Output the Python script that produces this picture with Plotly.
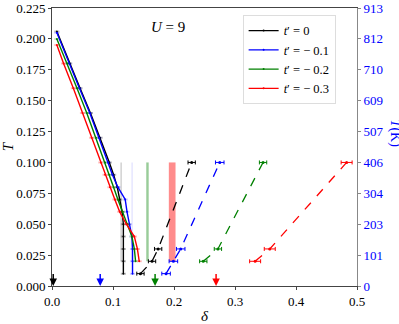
import plotly.graph_objects as go

# ---- data ----
labels = ["<i>t</i>′ = 0", "<i>t</i>′ = − 0.1", "<i>t</i>′ = − 0.2", "<i>t</i>′ = − 0.3"]
colors = ["black", "blue", "green", "red"]
err_colors = ["rgba(0,0,0,0.25)", "rgba(0,0,255,0.2)", "rgba(0,128,0,0.2)", "rgba(255,0,0,0.25)"]

# solid branch (delta, T)
T_s0 = [0.206, 0.18, 0.16, 0.14, 0.12, 0.10, 0.09, 0.08, 0.07, 0.06, 0.05, 0.04, 0.03, 0.02, 0.01]
d_s0 = [0.008, 0.029, 0.046, 0.063, 0.079, 0.094, 0.101, 0.107, 0.111, 0.115, 0.117, 0.117, 0.117, 0.117, 0.117]
T_s1 = [0.205, 0.18, 0.16, 0.14, 0.12, 0.10, 0.09, 0.08, 0.07, 0.06, 0.05, 0.04, 0.03, 0.02, 0.01]
d_s1 = [0.008, 0.028, 0.045, 0.062, 0.077, 0.092, 0.099, 0.108, 0.120, 0.123, 0.127, 0.131, 0.132, 0.132, 0.132]
T_s2 = [0.200, 0.18, 0.16, 0.14, 0.12, 0.10, 0.09, 0.08, 0.07, 0.06, 0.05, 0.04, 0.03, 0.02]
d_s2 = [0.008, 0.025, 0.041, 0.057, 0.072, 0.087, 0.094, 0.101, 0.108, 0.116, 0.124, 0.131, 0.135, 0.137]
T_s3 = [0.195, 0.18, 0.16, 0.14, 0.12, 0.10, 0.09, 0.08, 0.07, 0.06, 0.05, 0.04, 0.03, 0.02]
d_s3 = [0.008, 0.019, 0.035, 0.050, 0.065, 0.080, 0.087, 0.095, 0.103, 0.111, 0.122, 0.135, 0.140, 0.143]
solid = [(d_s0, T_s0), (d_s1, T_s1), (d_s2, T_s2), (d_s3, T_s3)]
solid_err = 0.003

# dashed branch (delta, T, horizontal error)
T_d0 = [0.01, 0.02, 0.03, 0.10]
d_d0 = [0.145, 0.164, 0.174, 0.229]
T_d1 = [0.01, 0.02, 0.03, 0.10]
d_d1 = [0.187, 0.199, 0.211, 0.275]
T_d2 = [0.02, 0.03, 0.10]
d_d2 = [0.248, 0.272, 0.346]
T_d3 = [0.02, 0.03, 0.10]
d_d3 = [0.333, 0.357, 0.483]
dashed = [(d_d0, T_d0), (d_d1, T_d1), (d_d2, T_d2), (d_d3, T_d3)]
dashed_err = [0.006, 0.007, 0.006, 0.009]

# vertical bands (delta range) between T = 0.02 and 0.1
band_lo = [0.1125, 0.1305, 0.1545, 0.1915]
band_hi = [0.1140, 0.1320, 0.1585, 0.2025]
band_colors = ["rgba(0,0,0,0.3)", "rgba(120,120,255,0.3)", "rgba(0,128,0,0.4)", "rgba(255,0,0,0.45)"]
band_T = [0.02, 0.10]

# arrows on the delta axis
arrow_d = [0.002, 0.079, 0.169, 0.269]

# axes ticks
T_ticks = [0.0, 0.025, 0.05, 0.075, 0.1, 0.125, 0.15, 0.175, 0.2, 0.225]
TK_labels = ["0", "101", "203", "304", "406", "507", "609", "710", "812", "913"]
d_ticks = [0.0, 0.1, 0.2, 0.3, 0.4, 0.5]

FONT = "Liberation Serif"

fig = go.Figure()

for i in range(4):
    dx, ty = solid[i]
    fig.add_trace(go.Scatter(
        x=dx, y=ty, mode="lines+markers", name=labels[i],
        line=dict(color=colors[i], width=1.4),
        marker=dict(size=2, color=colors[i]),
        error_x=dict(type="constant", value=solid_err, color=err_colors[i], thickness=1.5, width=1)))

for i in range(4):
    dx, ty = dashed[i]
    fig.add_trace(go.Scatter(
        x=dx, y=ty, mode="lines+markers", showlegend=False,
        line=dict(color=colors[i], width=1.3, dash="dash"),
        marker=dict(size=3, color=colors[i]),
        error_x=dict(type="constant", value=dashed_err[i], color=colors[i], thickness=1, width=2)))

# invisible trace to show the right axis
fig.add_trace(go.Scatter(x=[0], y=[0], yaxis="y2", mode="markers",
                         marker=dict(opacity=0), showlegend=False, hoverinfo="skip"))

for i in range(4):
    fig.add_shape(type="rect", xref="x", yref="y", x0=band_lo[i], x1=band_hi[i],
                  y0=band_T[0], y1=band_T[1], fillcolor=band_colors[i], line_width=0, layer="below")
    fig.add_annotation(x=arrow_d[i], y=0, ax=arrow_d[i], ay=0.011, xref="x", yref="y",
                       axref="x", ayref="y", showarrow=True, arrowhead=2, arrowsize=1,
                       arrowwidth=1.5, arrowcolor=colors[i], text="")

fig.add_annotation(x=0.19, y=0.2095, xref="x", yref="y", text="<i>U</i> = 9",
                   showarrow=False, font=dict(family=FONT, size=15, color="black"))
fig.add_annotation(x=1.123, y=0.55, xref="paper", yref="paper", xanchor="center", yanchor="middle",
                   text="<i>T</i>(K)", showarrow=False, textangle=90,
                   font=dict(family=FONT, size=14, color="blue"))

fig.update_layout(
    width=399, height=324,
    margin=dict(l=52, r=42, t=8, b=38),
    paper_bgcolor="white", plot_bgcolor="white",
    font=dict(family=FONT, size=13, color="black"),
    xaxis=dict(range=[0, 0.5], tickvals=d_ticks, tickformat=".1f", showgrid=False, zeroline=False,
               showline=True, linecolor="#444", linewidth=1, mirror=True, ticks="outside",
               ticklen=3, tickcolor="#444", automargin=False,
               title=dict(text="<i>δ</i>", font=dict(family=FONT, size=15), standoff=2)),
    yaxis=dict(range=[0, 0.225], tickvals=T_ticks, tickformat=".3f", showgrid=False, zeroline=False,
               showline=True, linecolor="#444", linewidth=1, ticks="outside", ticklen=3, tickcolor="#444",
               automargin=False,
               title=dict(text="<i>T</i>", font=dict(family=FONT, size=15), standoff=4)),
    yaxis2=dict(range=[0, 0.225], overlaying="y", side="right", anchor="x", tickvals=T_ticks,
                ticktext=TK_labels, showgrid=False, zeroline=False, showline=True, linecolor="#888",
                ticks="outside", ticklen=3, tickcolor="#888", tickfont=dict(color="blue"),
                automargin=False),
    legend=dict(x=0.625, y=0.975, xanchor="left", yanchor="top", bgcolor="white",
                bordercolor="#ddd", borderwidth=1, font=dict(family=FONT, size=12.5),
                tracegroupgap=0, itemwidth=30),
    showlegend=True,
)

# drop the default 8px page margin so the figure sits at the window's corner
fig.write_html("out.html", config={"displayModeBar": False},
               post_script="document.body.style.margin='0';")
